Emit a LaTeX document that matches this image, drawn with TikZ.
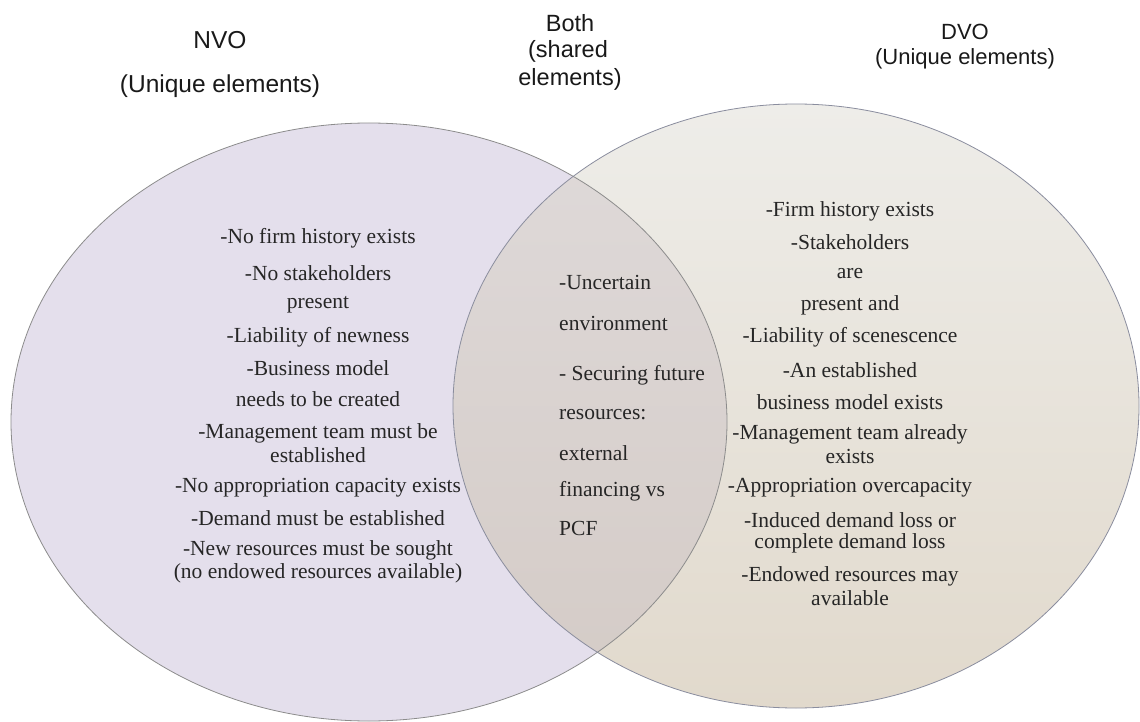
\documentclass[tikz,border=0pt]{standalone}
\usepackage{fontspec}
\setmainfont{Liberation Serif}
\newfontfamily\hdrfont{Liberation Sans}
\begin{document}
\begin{tikzpicture}[x=1pt,y=-1pt,
  hdr/.style={font=\hdrfont\fontsize{#1}{26}\selectfont, text=black!90, inner sep=0pt},
  hdr/.default=22,
  body/.style={font=\fontsize{21.5}{25}\selectfont, text=black!85, inner sep=0pt},
  mid/.style={body, anchor=west}]
\definecolor{nvofill}{HTML}{E4DFEC}
\definecolor{dvotop}{HTML}{EEEDE9}
\definecolor{dvobot}{HTML}{E1D9CC}
\definecolor{bothtop}{HTML}{DFDADA}
\definecolor{bothbot}{HTML}{D4CBC6}
\definecolor{nvoline}{HTML}{8C8C8C}
\definecolor{dvoline}{HTML}{8A8D9E}
\useasboundingbox[fill=white] (0,0) rectangle (1140,722);

% the two sets
\fill[nvofill] (369,422) ellipse [x radius=358, y radius=299];
\shade[top color=dvotop, bottom color=dvobot] (796,406) ellipse [x radius=343, y radius=302];
% their overlap
\begin{scope}
  \clip (369,422) ellipse [x radius=358, y radius=299];
  \shade[top color=bothtop, bottom color=bothbot] (796,406) ellipse [x radius=343, y radius=302];
\end{scope}
\draw[nvoline, line width=0.8pt] (369,422) ellipse [x radius=358, y radius=299];
\draw[dvoline, line width=0.8pt] (796,406) ellipse [x radius=343, y radius=302];

% headings
\node[hdr=24.5] (h1) at (220,40) {NVO};
\node[hdr=24.5] (h2) at (220,86) {(Unique elements)};
\node[hdr=23.5] (h3) at (570,23) {Both};
\node[hdr=23.5] (h4) at (568,51) {(shared};
\node[hdr=23.5] (h5) at (570,79) {elements)};
\node[hdr] (h6) at (965,32) {DVO};
\node[hdr] (h7) at (965,59) {(Unique elements)};

% NVO items
\node[body] (n1) at (318,238) {-No firm history exists};
\node[body] (n2) at (318,273) {-No stakeholders};
\node[body] (n3) at (318,305) {present};
\node[body] (n4) at (318,337) {-Liability of newness};
\node[body] (n5) at (318,368) {-Business model};
\node[body] (n6) at (318,399) {needs to be created};
\node[body] (n7) at (318,433) {-Management team must be};
\node[body] (n8) at (318,455) {established};
\node[body] (n9) at (318,488) {-No appropriation capacity exists};
\node[body] (n10) at (318,518) {-Demand must be established};
\node[body] (n11) at (318,550) {-New resources must be sought};
\node[body] (n12) at (318,573) {(no endowed resources available)};

% shared items
\node[mid] (b1) at (559,282) {-Uncertain};
\node[mid] (b2) at (559,323) {environment};
\node[mid] (b3) at (559,375) {- Securing future};
\node[mid] (b4) at (559,415) {resources:};
\node[mid] (b5) at (559,453) {external};
\node[mid] (b6) at (559,491) {financing vs};
\node[mid] (b7) at (559,528) {PCF};

% DVO items
\node[body] (d1) at (850,211) {-Firm history exists};
\node[body] (d2) at (850,242) {-Stakeholders};
\node[body] (d3) at (850,274) {are};
\node[body] (d4) at (850,305) {present and};
\node[body] (d5) at (850,337) {-Liability of scenescence};
\node[body] (d6) at (850,370) {-An established};
\node[body] (d7) at (850,402) {business model exists};
\node[body] (d8) at (850,434) {-Management team already};
\node[body] (d9) at (850,456) {exists};
\node[body] (d10) at (850,488) {-Appropriation overcapacity};
\node[body] (d11) at (850,520) {-Induced demand loss or};
\node[body] (d12) at (850,543) {complete demand loss};
\node[body] (d13) at (850,576) {-Endowed resources may};
\node[body] (d14) at (850,598) {available};
\end{tikzpicture}
\end{document}
